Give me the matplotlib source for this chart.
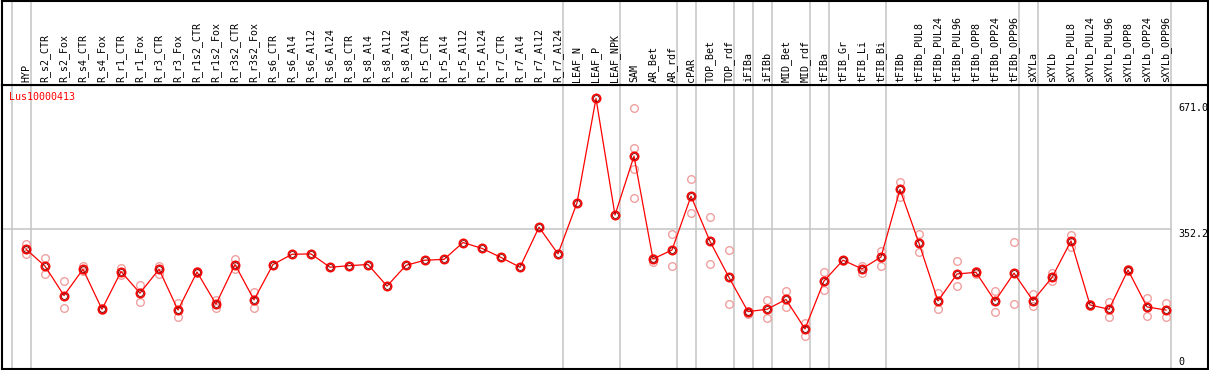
import numpy as np
import matplotlib.pyplot as plt

GENE = "Lus10000413"

SAMPLES = ["HYP", "R_s2_CTR", "R_s2_Fox", "R_s4_CTR", "R_s4_Fox", "R_r1_CTR", "R_r1_Fox",
           "R_r3_CTR", "R_r3_Fox", "R_r1s2_CTR", "R_r1s2_Fox", "R_r3s2_CTR", "R_r3s2_Fox",
           "R_s6_CTR", "R_s6_Al4", "R_s6_Al12", "R_s6_Al24", "R_s8_CTR", "R_s8_Al4",
           "R_s8_Al12", "R_s8_Al24", "R_r5_CTR", "R_r5_Al4", "R_r5_Al12", "R_r5_Al24",
           "R_r7_CTR", "R_r7_Al4", "R_r7_Al12", "R_r7_Al24", "LEAF_N", "LEAF_P", "LEAF_NPK",
           "SAM", "AR_Bet", "AR_rdf", "cPAR", "TOP_Bet", "TOP_rdf", "iFIBa", "iFIBb",
           "MID_Bet", "MID_rdf", "tFIBa", "tFIB_Gr", "tFIB_Li", "tFIB_Bi", "tFIBb",
           "tFIBb_PUL8", "tFIBb_PUL24", "tFIBb_PUL96", "tFIBb_OPP8", "tFIBb_OPP24",
           "tFIBb_OPP96", "sXYLa", "sXYLb", "sXYLb_PUL8", "sXYLb_PUL24", "sXYLb_PUL96",
           "sXYLb_OPP8", "sXYLb_OPP24", "sXYLb_OPP96"]

# mittelwerte (rote linie)
MEANS = [300, 257, 182, 249, 147, 243, 188, 249, 145, 242, 160, 261, 171,
         261, 287, 288, 254, 258, 261, 206, 259, 272, 274, 317, 302, 279, 254, 356, 288,
         418, 684, 387, 537, 275, 298, 435, 320, 228, 141, 147, 172, 97, 219, 272, 250,
         280, 452, 315, 168, 237, 241, 168, 239, 169, 228, 321, 158, 147, 247, 153, 145]

# einzelwerte (blasse kreise)
REPLICATES = {
    0: [312, 287, 300], 1: [277, 237], 2: [218, 150], 3: [257, 245], 4: [150, 144],
    5: [251, 234], 6: [208, 165], 7: [258, 237], 8: [162, 127], 9: [245, 239],
    10: [171, 151], 11: [274, 249], 12: [192, 150],
    32: [659, 558, 504, 430], 33: [268, 277], 34: [339, 257], 35: [480, 391],
    36: [381, 262], 37: [298, 160], 38: [143, 134], 39: [171, 124], 40: [194, 154],
    41: [113, 80], 42: [241, 196], 43: [273, 270], 44: [257, 239], 45: [296, 257],
    46: [472, 434], 47: [339, 292], 48: [188, 148], 49: [270, 206], 50: [245, 237],
    51: [194, 141], 52: [318, 160], 53: [186, 156], 54: [240, 219], 55: [336, 306],
    56: [161, 155], 57: [166, 128], 58: [249, 245], 59: [175, 130], 60: [162, 127],
}

# gruppengrenzen (nach spalte)
GROUP_ENDS = [-1, 0, 28, 31, 34, 35, 37, 38, 39, 41, 42, 45, 52, 53, 60]

GRID_VALUE = 352.2
AXIS_LABELS = ["671.0", "352.2", "0"]

W, H = 1209, 370
fig = plt.figure(figsize=(W / 100, H / 100), dpi=100)
fig.patch.set_facecolor("white")

left, right = 1.5 / W, 1207.5 / W
ax = fig.add_axes([left, (H - 368.5) / H, right - left, (368.5 - 85) / H])
hd = fig.add_axes([left, (H - 85) / H, right - left, (85 - 0.5) / H])

xlim = ((1.5 - 26) / 19, (1207.5 - 26) / 19)
px_per_unit = 0.3927
ylim = ((367 - 368.5) / px_per_unit, (367 - 85) / px_per_unit)

for a in (ax, hd):
    a.set_xlim(*xlim)
    a.set_xticks([])
    a.set_yticks([])
    for s in a.spines.values():
        s.set_color("black")
        s.set_linewidth(1.5)
    for g in GROUP_ENDS:
        a.axvline(g + 0.24, color="#c4c4c4", lw=1.1, zorder=0)
ax.set_ylim(*ylim)
hd.set_ylim(0, 1)

FONT = dict(family="DejaVu Sans Mono", fontsize=7.2)

# probennamen
for i, name in enumerate(SAMPLES):
    hd.text(i, 0.03, name, rotation=90, ha="center", va="bottom", **FONT)

# horizontale linie
ax.plot([xlim[0], GROUP_ENDS[-1] + 0.24], [GRID_VALUE, GRID_VALUE], color="#c4c4c4", lw=1.1, zorder=0)

x = np.arange(len(SAMPLES))
for i, vals in REPLICATES.items():
    ax.plot([i] * len(vals), vals, "o", ms=5.5, mfc="none", mec="#f0a0a0", mew=1.0, zorder=2)

ax.plot(x, MEANS, color="red", lw=0.9, zorder=3)
ax.plot(x, MEANS, "o", ms=6, mfc="none", mec="red", mew=1.2, zorder=4)
ax.plot(x, MEANS, "o", ms=4.2, mfc="none", mec="#7a0000", mew=0.6, zorder=4)

ax.text(-0.88, 687, GENE, color="red", ha="left", va="center", **FONT)

lx = (1178 - 26) / 19
ax.text(lx, 671.0, AXIS_LABELS[0], ha="left", va="top", **FONT)
ax.text(lx, 352.2, AXIS_LABELS[1], ha="left", va="top", **FONT)
ax.text(lx, 14, AXIS_LABELS[2], ha="left", va="center", **FONT)

fig.savefig("out.png", dpi=100)
